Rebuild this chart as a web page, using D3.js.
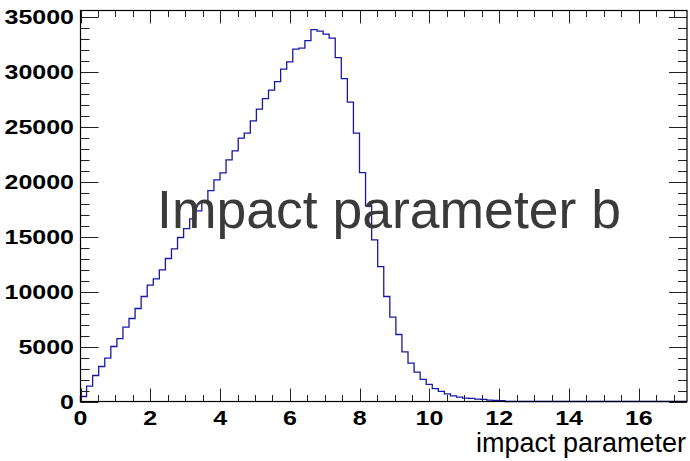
<!DOCTYPE html>
<html>
<head>
<meta charset="utf-8">
<script src="https://cdn.jsdelivr.net/npm/d3@7"></script>
<style>
    body { margin: 0; background: #fff; }
    svg { display: block; font-family: "Liberation Sans", Arial, sans-serif; }
</style>
</head>
<body>
<div id="chart"></div>
<script>
// histogram of impact parameter, 100 bins
var nBins = 100;
var xMax = 17.38;
var yMax = 35550;
var binCounts = [
    455, 1400, 2365, 3180, 3945, 5000, 5725, 6765, 7545, 8455,
    9545, 10580, 11155, 11970, 13000, 13880, 14910, 15725, 16610, 17335,
    18245, 19180, 20150, 20780, 21970, 22790, 23940, 24400, 25515, 26580,
    27540, 28310, 29090, 30215, 30880, 32035, 32125, 32815, 33815, 33670,
    33400, 33030, 31270, 29360, 27215, 24400, 20815, 17800, 14700, 12270,
    9545, 7680, 6090, 4520, 3490, 2670, 2010, 1565, 1170, 920,
    700, 520, 400, 310, 280, 220, 200, 130, 110, 80,
    0, 0, 0, 0, 0, 0, 0, 0, 0, 0,
    0, 0, 0, 0, 0, 0, 0, 0, 0, 0,
    0, 0, 0, 0, 0, 0, 0, 0, 0, 0
];
var xMajorTicks = [0, 2, 4, 6, 8, 10, 12, 14, 16];
var xMinorTicks = d3.range(0, 17.3, 0.5);
var yMajorTicks = [0, 5000, 10000, 15000, 20000, 25000, 30000, 35000];
var yMinorTicks = d3.range(0, 35001, 1000);
var xTitle = "impact parameter";
var histTitle = "Impact parameter b";

var width = 690, height = 461;
var frame = { left: 80.5, right: 687, top: 10.5, bottom: 401.5 };
var labelStretch = 1.25;

var svg = d3.select("#chart").append("svg")
    .attr("width", width)
    .attr("height", height);

var x = d3.scaleLinear().domain([0, xMax]).range([frame.left, frame.right]);
var y = d3.scaleLinear().domain([0, yMax]).range([frame.bottom, frame.top]);

//histogram outline
var binW = xMax / nBins;
var pts = [[0, 0]];
binCounts.forEach(function (v, i) {
    pts.push([i * binW, v]);
    pts.push([(i + 1) * binW, v]);
});
pts.push([xMax, 0]);

var line = d3.line()
    .x(function (d) { return x(d[0]); })
    .y(function (d) { return y(d[1]); });

svg.append("path")
    .attr("d", line(pts))
    .attr("fill", "none")
    .attr("stroke", "#1818a8")
    .attr("stroke-width", 1.3);

//ticks on all four sides
var tickGroup = svg.append("g").attr("stroke", "#222").attr("stroke-width", 1);
var addXTicks = function (vals, len) {
    vals.forEach(function (v) {
        var px = Math.round(x(v)) + 0.5;
        tickGroup.append("line").attr("x1", px).attr("x2", px)
            .attr("y1", frame.bottom).attr("y2", frame.bottom - len);
        tickGroup.append("line").attr("x1", px).attr("x2", px)
            .attr("y1", frame.top).attr("y2", frame.top + len);
    });
}
var addYTicks = function (vals, len) {
    vals.forEach(function (v) {
        var py = Math.round(y(v)) + 0.5;
        tickGroup.append("line").attr("y1", py).attr("y2", py)
            .attr("x1", frame.left).attr("x2", frame.left + len);
        tickGroup.append("line").attr("y1", py).attr("y2", py)
            .attr("x1", frame.right).attr("x2", frame.right - len);
    });
}
addXTicks(xMinorTicks, 6.5);
addXTicks(xMajorTicks, 13);
addYTicks(yMinorTicks, 9);
addYTicks(yMajorTicks, 18);

//frame
svg.append("rect")
    .attr("x", frame.left).attr("y", frame.top)
    .attr("width", frame.right - frame.left)
    .attr("height", frame.bottom - frame.top)
    .attr("fill", "none")
    .attr("stroke", "#000")
    .attr("stroke-width", 1.2);

//tick labels (wide bold digits as in the original)
svg.append("g").selectAll("text")
    .data(xMajorTicks)
    .enter().append("text")
    .attr("transform", function (d) {
        return "translate(" + x(d) + ",424.5) scale(" + labelStretch + ",1)";
    })
    .attr("text-anchor", "middle")
    .attr("font-weight", "bold")
    .attr("font-size", 20)
    .text(function (d) { return d; });

svg.append("g").selectAll("text")
    .data(yMajorTicks)
    .enter().append("text")
    .attr("transform", function (d) {
        return "translate(74," + (y(d) + 7) + ") scale(" + labelStretch + ",1)";
    })
    .attr("text-anchor", "end")
    .attr("font-weight", "bold")
    .attr("font-size", 20)
    .text(function (d) { return d; });

//axis title
svg.append("text")
    .attr("x", 686)
    .attr("y", 452)
    .attr("text-anchor", "end")
    .attr("font-size", 27)
    .text(xTitle);

//big title over the plot
svg.append("text")
    .attr("x", 389)
    .attr("y", 228)
    .attr("text-anchor", "middle")
    .attr("font-size", 53.5)
    .attr("fill", "#3a3a3a")
    .text(histTitle);
</script>
</body>
</html>
